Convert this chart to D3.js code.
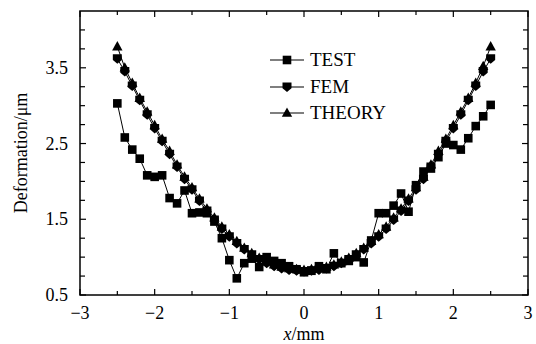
<!DOCTYPE html>
<html><head><meta charset="utf-8">
<script src="https://cdn.jsdelivr.net/npm/d3@7"></script>
<style>body{margin:0;background:#fff}svg{display:block}
svg text{font-family:"Liberation Serif",serif !important;}
</style>
</head><body>
<svg id="c" width="536" height="344"></svg>
<script>
const xs = [-2.5,-2.4,-2.3,-2.2,-2.1,-2.0,-1.9,-1.8,-1.7,-1.6,-1.5,-1.4,-1.3,-1.2,-1.1,-1.0,-0.9,-0.8,-0.7,-0.6,-0.5,-0.4,-0.3,-0.2,-0.1,0.0,0.1,0.2,0.3,0.4,0.5,0.6,0.7,0.8,0.9,1.0,1.1,1.2,1.3,1.4,1.5,1.6,1.7,1.8,1.9,2.0,2.1,2.2,2.3,2.4,2.5];
const test = [3.03,2.58,2.42,2.30,2.08,2.06,2.08,1.78,1.71,1.88,1.58,1.59,1.58,1.47,1.25,0.96,0.72,0.92,0.98,0.87,1.00,0.95,0.92,0.88,0.84,0.80,0.82,0.88,0.84,1.05,0.92,0.95,1.00,0.93,1.22,1.58,1.58,1.68,1.84,1.60,1.95,2.13,2.17,2.32,2.50,2.48,2.42,2.57,2.73,2.86,3.01];
const fem = [3.62,3.45,3.26,3.07,2.88,2.70,2.53,2.36,2.19,2.03,1.89,1.74,1.61,1.49,1.37,1.27,1.18,1.10,1.03,0.97,0.92,0.88,0.85,0.83,0.82,0.81,0.82,0.83,0.85,0.88,0.92,0.97,1.03,1.10,1.18,1.27,1.37,1.49,1.61,1.74,1.89,2.03,2.19,2.36,2.53,2.70,2.88,3.07,3.26,3.45,3.62];
const theory = [3.78,3.50,3.30,3.10,2.92,2.74,2.56,2.40,2.22,2.06,1.92,1.77,1.64,1.52,1.40,1.30,1.21,1.12,1.05,0.99,0.94,0.90,0.87,0.85,0.84,0.83,0.84,0.85,0.87,0.90,0.94,0.99,1.05,1.12,1.21,1.30,1.40,1.52,1.64,1.77,1.92,2.06,2.22,2.40,2.56,2.74,2.92,3.10,3.30,3.52,3.78];
const seriesNames = ["TEST","FEM","THEORY"];
const xTickLabels = ["\u22123","\u22122","\u22121","0","1","2","3"];
const yTickLabels = ["0.5","1.5","2.5","3.5"];

const svg = d3.select("#c");
const L=80, R=528, T=11, B=295;
const x = d3.scaleLinear().domain([-3,3]).range([L,R]);
const y = d3.scaleLinear().domain([0.5,4.25]).range([B,T]);
const ST = "font-family:'Liberation Serif',serif;font-size:";

svg.append("rect").attr("x",L).attr("y",T).attr("width",R-L).attr("height",B-T)
  .attr("fill","none").attr("stroke","#000").attr("stroke-width",1.5);

const xMajor=[-3,-2,-1,0,1,2,3], xMinor=[-2.5,-1.5,-0.5,0.5,1.5,2.5];
const yMajor=[0.5,1.5,2.5,3.5], yMinor=[0.75,1,1.25,1.75,2,2.25,2.75,3,3.25,3.75,4];
const tk = svg.append("g").attr("stroke","#000").attr("stroke-width",1.2);
xMajor.concat(xMinor).forEach(v=>{
  const len = xMajor.includes(v)?6:4;
  tk.append("line").attr("x1",x(v)).attr("x2",x(v)).attr("y1",B).attr("y2",B-len);
  tk.append("line").attr("x1",x(v)).attr("x2",x(v)).attr("y1",T).attr("y2",T+len);
});
yMajor.concat(yMinor).forEach(v=>{
  const len = yMajor.includes(v)?6:5;
  tk.append("line").attr("y1",y(v)).attr("y2",y(v)).attr("x1",L).attr("x2",L+len);
  tk.append("line").attr("y1",y(v)).attr("y2",y(v)).attr("x1",R).attr("x2",R-len);
});
xMajor.forEach((v,i)=>svg.append("text").attr("style",ST+"18px").attr("x",x(v)).attr("y",B+24).attr("text-anchor","middle")
  .text(xTickLabels[i]));
yMajor.forEach((v,i)=>svg.append("text").attr("style",ST+"18px").attr("x",L-12).attr("y",y(v)+6).attr("text-anchor","end")
  .text(yTickLabels[i]));

const xt = svg.append("text").attr("style",ST+"18px").attr("x",(L+R)/2).attr("y",340).attr("text-anchor","middle");
xt.append("tspan").attr("font-style","italic").text("x");
xt.append("tspan").text("/mm");
svg.append("text").attr("style",ST+"18px").attr("transform","translate(27,"+((T+B)/2)+") rotate(-90)")
  .attr("text-anchor","middle").text("Deformation/\u03bcm");

const sq = "M-4.3,-4.3H4.3V4.3H-4.3Z";
const femP = "M-4.5,-4.5H4.5V1.2L0,5L-4.5,1.2Z";
const tri = "M0,-5.5L5.2,3.8H-5.2Z";
const shapes=[sq,femP,tri];
const data=[test,fem,theory];
const line = d3.line().x((d,i)=>x(xs[i])).y(d=>y(d));
const order=[2,1,0];
order.forEach(k=>{
  svg.append("path").attr("d",line(data[k])).attr("fill","none").attr("stroke","#000").attr("stroke-width",1);
});
order.forEach(k=>{
  svg.append("g").selectAll("path").data(data[k]).join("path")
    .attr("transform",(d,i)=>`translate(${x(xs[i])},${y(d)})`).attr("d",shapes[k]).attr("fill","#000");
});

const lx1=270, lx2=304, lm=287, ly=[60,87,113];
seriesNames.forEach((n,k)=>{
  svg.append("line").attr("x1",lx1).attr("x2",lx2).attr("y1",ly[k]).attr("y2",ly[k]).attr("stroke","#000").attr("stroke-width",1.2);
  svg.append("path").attr("transform",`translate(${lm},${ly[k]})`).attr("d",shapes[k]).attr("fill","#000");
  svg.append("text").attr("style",ST+"19px").attr("x",310).attr("y",ly[k]+6).text(n);
});
</script>
</body></html>
